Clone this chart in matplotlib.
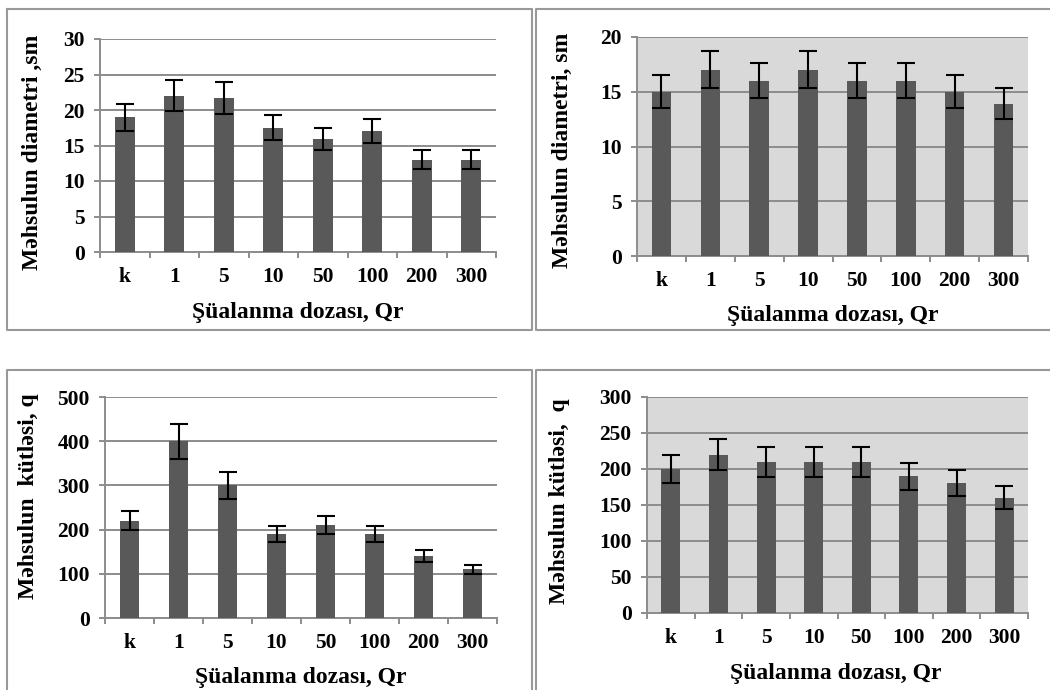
import matplotlib
matplotlib.use("Agg")
import matplotlib.pyplot as plt
from matplotlib.lines import Line2D

plt.rcParams['font.family'] = ['Liberation Serif', 'DejaVu Serif']
plt.rcParams['font.weight'] = 'bold'

doses = ['k', '1', '5', '10', '50', '100', '200', '300']

# top-left: diameter (first set)
diam_a = [19, 22, 21.7, 17.5, 15.9, 17, 13, 13]
diam_a_err = [1.9, 2.2, 2.2, 1.75, 1.6, 1.7, 1.3, 1.3]
# top-right: diameter (second set)
diam_b = [15, 17, 16, 17, 16, 16, 15, 13.9]
diam_b_err = [1.5, 1.7, 1.6, 1.7, 1.6, 1.6, 1.5, 1.4]
# bottom-left: mass (first set)
mass_a = [220, 400, 300, 190, 210, 190, 140, 110]
mass_a_err = [22, 40, 30, 19, 21, 19, 14, 11]
# bottom-right: mass (second set)
mass_b = [200, 220, 210, 210, 210, 190, 180, 160]
mass_b_err = [20, 22, 21, 21, 21, 19, 18, 16]

W, H = 1050, 690
fig = plt.figure(figsize=(W / 100, H / 100), dpi=100)

BAR = '#595959'
GRID = '#8c8c8c'


def px(x, y):
    # image pixel -> figure fraction
    return x / W, 1 - y / H


def make_panel(rect, vals, errs, ymax, ystep, bg, ylabel, ylab_xy, xlab_xy):
    l, t, r, b = rect
    ax = fig.add_axes([l / W, 1 - b / H, (r - l) / W, (b - t) / H])
    ax.set_facecolor(bg)
    x = list(range(len(doses)))
    ax.bar(x, vals, width=0.4, color=BAR, zorder=3)
    ax.errorbar(x, vals, yerr=errs, fmt='none', ecolor='black', elinewidth=1.5,
                capsize=6.5, capthick=1.5, zorder=4)
    ax.set_xlim(-0.5, len(doses) - 0.5)
    ax.set_ylim(0, ymax)
    ax.set_yticks(range(0, ymax + 1, ystep))
    ax.yaxis.grid(True, color=GRID, linewidth=1.4, zorder=1)
    ax.set_axisbelow(True)
    for s in ['top', 'right']:
        ax.spines[s].set_visible(False)
    for s in ['left', 'bottom']:
        ax.spines[s].set_color(GRID)
        ax.spines[s].set_linewidth(1.4)
    ax.set_xticks(x)
    ax.set_xticklabels(doses)
    ax.set_xticks([i - 0.5 for i in range(len(doses) + 1)], minor=True)
    ax.tick_params(axis='x', which='major', length=0, pad=11, labelsize=15.5)
    ax.tick_params(axis='x', which='minor', length=4, width=1.4, color=GRID)
    ax.tick_params(axis='y', length=4, width=1.4, color=GRID, pad=7, labelsize=15.5)
    fx, fy = px(*ylab_xy)
    fig.text(fx, fy, ylabel, rotation=90, ha='center', va='center',
             fontsize=17, fontweight='bold')
    fx, fy = px(*xlab_xy)
    fig.text(fx, fy, 'Şüalanma dozası, Qr', ha='center', va='center',
             fontsize=17, fontweight='bold')
    return ax


make_panel((100, 39, 496, 252), diam_a, diam_a_err, 30, 5, 'white',
           'Məhsulun diametri ,sm', (32, 152), (298, 312))
make_panel((637, 37, 1028, 256), diam_b, diam_b_err, 20, 5, '#d9d9d9',
           'Məhsulun diametri, sm', (562, 150), (833, 315))
make_panel((105, 397, 497, 618), mass_a, mass_a_err, 500, 100, 'white',
           'Məhsulun  kütləsi, q', (29, 496), (301, 677))
make_panel((647, 397, 1028, 613), mass_b, mass_b_err, 300, 50, '#d9d9d9',
           'Məhsulun kütləsi,  q', (560, 501), (836, 673))

# panel frames (some run off the page edge)
BOX = '#999999'
frames = [
    [(7, 9), (532, 9), (532, 330), (7, 330), (7, 9)],
    [(1050, 9), (536, 9), (536, 330), (1050, 330)],
    [(7, 690), (7, 370), (532, 370), (532, 690)],
    [(536, 690), (536, 370), (1050, 370)],
]
for pts in frames:
    xs = [p[0] / W for p in pts]
    ys = [1 - p[1] / H for p in pts]
    fig.add_artist(Line2D(xs, ys, color=BOX, linewidth=1.5,
                          transform=fig.transFigure))

fig.savefig('out.png', dpi=100)
